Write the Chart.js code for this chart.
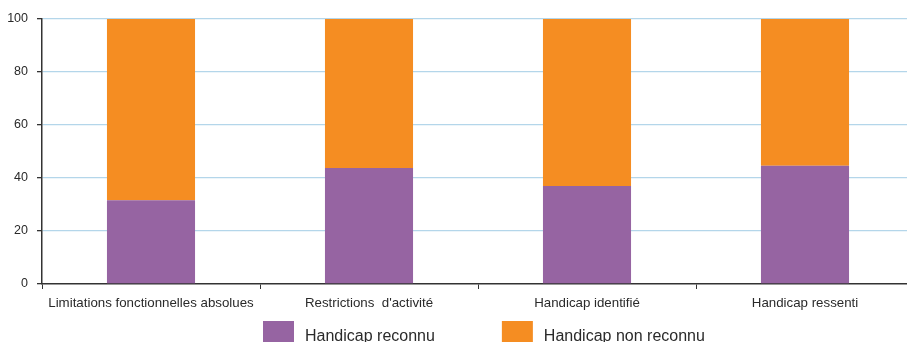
<!DOCTYPE html>
<html>
<head>
<meta charset="utf-8">
<script src="https://cdn.jsdelivr.net/npm/chart.js@4.4.1/dist/chart.umd.min.js"></script>
<style>
html,body{margin:0;padding:0;background:#fff;overflow:hidden;}
#wrap{position:relative;width:914px;height:342px;}
</style>
</head>
<body>
<div id="wrap"><canvas id="c"></canvas></div>
<script>
const categories = ["Limitations fonctionnelles absolues", "Restrictions  d'activité", "Handicap identifié", "Handicap ressenti"];
const seriesNames = ["Handicap reconnu", "Handicap non reconnu"];
const reconnu = [31.6, 43.8, 37.0, 44.6];
const nonReconnu = [68.4, 56.2, 63.0, 55.4];
const yTicks = [0, 20, 40, 60, 80, 100];

const PURPLE = '#9664a2';
const ORANGE = '#f58d22';
const FONT = '"Liberation Sans", Arial, sans-serif';

const legendPlugin = {
  id: 'customLegend',
  afterDraw(chart) {
    const ctx = chart.ctx;
    ctx.save();
    ctx.font = '16px ' + FONT;
    ctx.textBaseline = 'alphabetic';
    let x = 263;
    const top = 321;
    chart.data.datasets.forEach((ds) => {
      ctx.fillStyle = ds.backgroundColor;
      ctx.fillRect(x, top, 31, 30);
      ctx.fillStyle = '#2a2a2a';
      const tx = x + 42;
      ctx.fillText(ds.label, tx, 341);
      const w = ctx.measureText(ds.label).width;
      x = tx + w + 67;
    });
    ctx.restore();
  }
};

new Chart(document.getElementById('c'), {
  type: 'bar',
  data: {
    labels: categories,
    datasets: [
      { label: seriesNames[0], data: reconnu, backgroundColor: PURPLE },
      { label: seriesNames[1], data: nonReconnu, backgroundColor: ORANGE }
    ]
  },
  options: {
    responsive: true,
    maintainAspectRatio: false,
    animation: false,
    layout: { padding: { top: 19, left: 0, right: 0, bottom: 0 } },
    plugins: { legend: { display: false }, tooltip: { enabled: false }, title: { display: false } },
    datasets: { bar: { categoryPercentage: 1, barPercentage: 0.404 } },
    scales: {
      x: {
        stacked: true,
        offset: true,
        grid: { display: true, drawOnChartArea: false, offset: true, tickLength: 5, tickColor: '#333', tickWidth: 1 },
        border: { display: true, color: '#333', width: 1.5 },
        ticks: { color: '#2a2a2a', font: { family: FONT, size: 13.3 }, padding: 6, maxRotation: 0, autoSkip: false },
        afterFit(s) { s.height = 58; }
      },
      y: {
        stacked: true,
        min: 0, max: 100,
        afterBuildTicks(s) { s.ticks = yTicks.map(v => ({ value: v })); },
        grid: { color: (c) => c.tick && c.tick.value === 0 ? 'rgba(0,0,0,0)' : '#b4d6ea', lineWidth: 1.3, tickLength: 5, tickColor: '#333', drawTicks: true },
        border: { display: true, color: '#333', width: 1.5 },
        ticks: { color: '#2a2a2a', font: { family: FONT, size: 12.5 }, padding: 9 },
        afterFit(s) { s.width = 42; }
      }
    }
  },
  plugins: [legendPlugin]
});
</script>
</body>
</html>
